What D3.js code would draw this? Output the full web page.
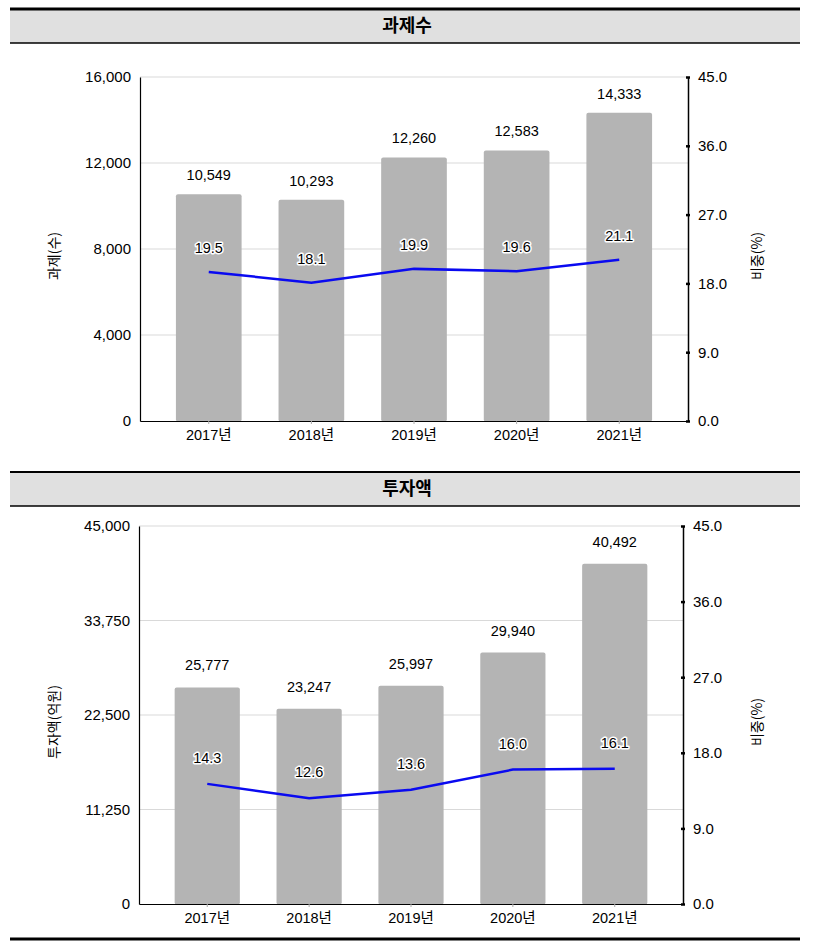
<!DOCTYPE html>
<html><head><meta charset="utf-8">
<script src="https://cdn.jsdelivr.net/npm/d3@7"></script>
<style>
body{margin:0;background:#fff;}
svg{display:block;font-family:"Liberation Sans",Arial,sans-serif;}
</style></head>
<body><svg id="c" width="815" height="950"></svg>
<script>
const years = ["2017년","2018년","2019년","2020년","2021년"];
const taskCounts = [10549, 10293, 12260, 12583, 14333];
const taskShare = [19.5, 18.1, 19.9, 19.6, 21.1];
const investAmounts = [25777, 23247, 25997, 29940, 40492];
const investShare = [14.3, 12.6, 13.6, 16.0, 16.1];
const taskTicks = [0, 4000, 8000, 12000, 16000];
const investTicks = [0, 11250, 22500, 33750, 45000];
const shareTicks = [0, 9, 18, 27, 36, 45];
const panelTitles = ["과제수", "투자액"];
const leftTitles = ["과제(수)", "투자액(억원)"];
const rightTitle = "비중(%)";

const svg = d3.select("#c");
const KR = '"Noto Sans CJK KR","Noto Sans",sans-serif';

function header(y0, y1, title, topW){
  svg.append("rect").attr("x",10).attr("y",y0).attr("width",790).attr("height",y1-y0).attr("fill","#e0e0e0");
  svg.append("line").attr("x1",10).attr("x2",800).attr("y1",y0).attr("y2",y0).attr("stroke","#000").attr("stroke-width",topW);
  svg.append("line").attr("x1",10).attr("x2",800).attr("y1",y1).attr("y2",y1).attr("stroke","#000").attr("stroke-width",1.5);
  svg.append("text").attr("x",407).attr("y",(y0+y1)/2+6).attr("text-anchor","middle")
    .attr("font-family",KR).attr("font-weight",700).attr("font-size",18).attr("fill","#000").text(title);
}

function panel(o){
  const {x0,x1,y0,y1,values,shares,ticks,leftTitle,barOff,lineOff} = o;
  const x = d3.scaleBand().domain(years).range([x0,x1]).paddingInner(0.36).paddingOuter(0.35);
  const yL = d3.scaleLinear().domain([ticks[0], ticks[ticks.length-1]]).range([y1,y0]);
  const yR = d3.scaleLinear().domain([0,45]).range([y1,y0]);
  const g = svg.append("g");
  g.selectAll(".grid").data(ticks.slice(1)).join("line")
    .attr("x1",x0).attr("x2",x1).attr("y1",d=>yL(d)).attr("y2",d=>yL(d))
    .attr("stroke","#d9d9d9").attr("stroke-width",1);
  g.selectAll(".bar").data(values).join("rect")
    .attr("x",(d,i)=>x(years[i])).attr("width",x.bandwidth())
    .attr("y",d=>yL(d)).attr("height",d=>y1-yL(d)+0.5)
    .attr("rx",2).attr("fill","#b4b4b4");
  const la = g.append("g").attr("transform",`translate(${x0},0)`)
    .call(d3.axisLeft(yL).tickValues(ticks).tickFormat(d3.format(",")).tickSize(0).tickPadding(9));
  la.select(".domain").attr("stroke","#000").attr("stroke-width",1.2);
  la.selectAll("text").attr("font-size",15).attr("fill","#000").attr("font-family",'"Liberation Sans",Arial,sans-serif');
  const ba = g.append("g").attr("transform",`translate(0,${y1})`)
    .call(d3.axisBottom(x).tickSize(3).tickPadding(6).tickSizeOuter(0));
  ba.select(".domain").attr("stroke","#000").attr("stroke-width",1.2);
  ba.selectAll(".tick line").attr("stroke","#aaa");
  ba.selectAll("text").attr("font-size",14.5).attr("fill","#000").attr("font-family",'"Liberation Sans",Arial,"Noto Sans CJK KR",sans-serif');
  const ra = g.append("g").attr("transform",`translate(${x1},0)`)
    .call(d3.axisRight(yR).tickValues(shareTicks).tickFormat(d3.format(".1f")).tickSize(2).tickPadding(8).tickSizeOuter(0));
  ra.select(".domain").attr("stroke","#000").attr("stroke-width",1.5);
  ra.selectAll(".tick line").attr("x1",-2).attr("stroke","#000").attr("stroke-width",2.5);
  ra.selectAll("text").attr("font-size",15).attr("fill","#000").attr("font-family",'"Liberation Sans",Arial,sans-serif');
  g.selectAll(".bl").data(values).join("text")
    .attr("x",(d,i)=>x(years[i])+x.bandwidth()/2).attr("y",d=>yL(d)-barOff)
    .attr("text-anchor","middle").attr("font-size",14.5).attr("fill","#000")
    .text(d=>d3.format(",")(d));
  const line = d3.line().x((d,i)=>x(years[i])+x.bandwidth()/2).y(d=>yR(d));
  g.append("path").datum(shares).attr("d",line).attr("fill","none")
    .attr("stroke","#0a0af0").attr("stroke-width",2.5);
  g.selectAll(".ll").data(shares).join("text")
    .attr("x",(d,i)=>x(years[i])+x.bandwidth()/2).attr("y",d=>yR(d)-lineOff)
    .attr("text-anchor","middle").attr("font-size",14.5).attr("fill","#000")
    .attr("stroke","#fff").attr("stroke-width",3).attr("paint-order","stroke").attr("stroke-linejoin","round")
    .text(d=>d3.format(".1f")(d));
  const ym = (y0+y1)/2 + 7;
  svg.append("text").attr("transform",`translate(${o.ltx},${ym}) rotate(-90)`)
    .attr("text-anchor","middle").attr("dy","0.35em").attr("font-family",KR).attr("font-size",14).attr("fill","#000").text(leftTitle);
  svg.append("text").attr("transform",`translate(${o.rtx},${ym}) rotate(-90)`)
    .attr("text-anchor","middle").attr("dy","0.35em").attr("font-family",KR).attr("font-size",14).attr("fill","#000").text(rightTitle);
}

header(9, 43, panelTitles[0], 3);
panel({x0:140,x1:688,y0:77,y1:421,values:taskCounts,shares:taskShare,ticks:taskTicks,
  leftTitle:leftTitles[0],barOff:14,lineOff:19,ltx:54,rtx:757});
header(472, 506, panelTitles[1], 2);
panel({x0:139,x1:683,y0:526,y1:904,values:investAmounts,shares:investShare,ticks:investTicks,
  leftTitle:leftTitles[1],barOff:17,lineOff:21,ltx:54,rtx:757});
svg.append("line").attr("x1",10).attr("x2",800).attr("y1",939).attr("y2",939).attr("stroke","#000").attr("stroke-width",3);
</script></body></html>
